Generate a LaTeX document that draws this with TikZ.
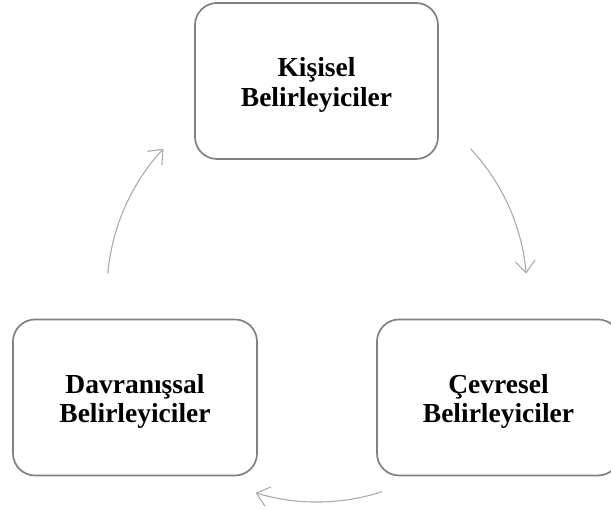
\documentclass[tikz,border=0pt]{standalone}
\usepackage{fontspec}
\setmainfont{Liberation Serif}
\usetikzlibrary{arrows.meta}
\begin{document}
\begin{tikzpicture}[x=1pt,y=1pt,
  box/.style={draw=black!50, line width=1.7pt, rounded corners=22pt, fill=white,
    minimum width=243pt, minimum height=156pt, inner sep=0pt},
  lbl/.style={align=center, inner sep=0pt, yshift=-4pt,
    font=\fontsize{27.5}{29.5}\selectfont\bfseries},
  arr/.style={draw=black!33, line width=1.1pt, -{Straight Barb[length=12pt,width=20pt]}}]
\useasboundingbox (0,0) rectangle (611,510);
\node[box] (top) at (316.5,429) {};
\node[box, minimum width=244pt] (left) at (135,112.5) {};
\node[box] (right) at (498.5,112.5) {};
\node[lbl] (topt) at (top.center) {Kişisel\\Belirleyiciler};
\node[lbl] (leftt) at (left.center) {Davranışsal\\Belirleyiciler};
\node[lbl] (rightt) at (right.center) {Çevresel\\Belirleyiciler};
\coordinate (c) at (317,218);
\path (c) ++(43:210) coordinate (a1);
\path (c) ++(-72:210) coordinate (a2);
\path (c) ++(175:210) coordinate (a3);
\draw[arr] (a1) arc[start angle=43, end angle=5, radius=210];
\draw[arr] (a2) arc[start angle=-72, end angle=-107, radius=210];
\draw[arr] (a3) arc[start angle=175, end angle=137, radius=210];
\end{tikzpicture}
\end{document}
